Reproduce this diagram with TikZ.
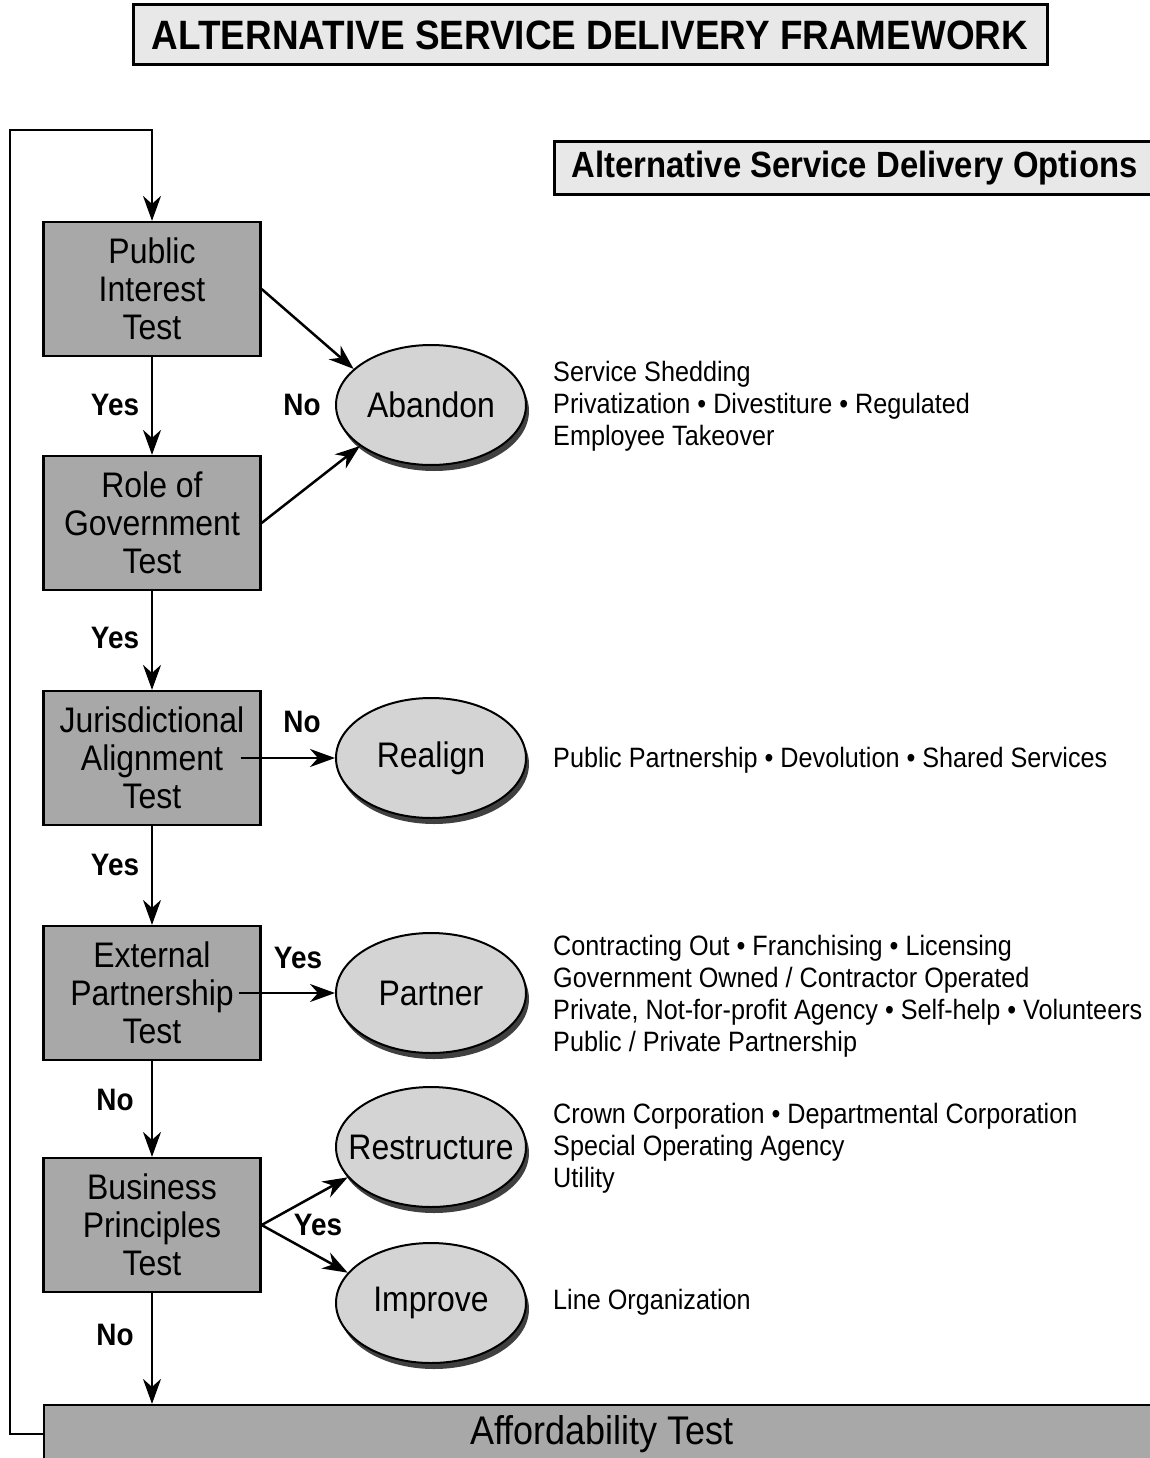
\documentclass[tikz,border=0pt]{standalone}
\usepackage{fontspec}
\setmainfont{Liberation Sans}[FakeStretch=0.9]
\usetikzlibrary{arrows.meta,shapes.geometric,shadows}
\definecolor{boxgray}{gray}{0.66}
\definecolor{ovalgray}{gray}{0.83}
\definecolor{titlegray}{gray}{0.91}
\begin{document}
\begin{tikzpicture}[x=1pt,y=-1pt,line join=miter,
	flow/.style={line width=2.5pt,-{Stealth[length=25pt,width=18pt,inset=8pt]}},
	testbox/.style={draw,line width=2.2pt,fill=boxgray,minimum width=217pt,minimum height=134pt,align=center,font=\fontsize{35.5}{38}\selectfont},
	option/.style={ellipse,draw,line width=2pt,fill=ovalgray,minimum width=190pt,minimum height=120pt,inner sep=0pt,font=\fontsize{35.5}{38}\selectfont,
		drop shadow={shadow xshift=3pt,shadow yshift=-6pt,fill=black!75,opacity=1}},
	answer/.style={font=\bfseries\fontsize{31}{34}\selectfont},
	optlist/.style={anchor=west,align=left,inner sep=0pt,font=\fontsize{28}{32}\selectfont},
	headbox/.style={draw,line width=3pt,fill=titlegray}]
	\useasboundingbox (0,0) rectangle (1149,1458);
	% headings
	\node[headbox,minimum width=914pt,minimum height=60pt,font=\bfseries\fontsize{41}{44}\selectfont] (title) at (590,35) {ALTERNATIVE SERVICE DELIVERY FRAMEWORK};
	\node[headbox,anchor=west,minimum height=53pt,inner xsep=17pt,font=\bfseries\fontsize{36.5}{40}\selectfont] (optionshead) at (553,168) {Alternative Service Delivery Options};
	% tests
	\node[testbox] (pit) at (152,289) {Public\\Interest\\Test};
	\node[testbox] (rog) at (152,523) {Role of\\Government\\Test};
	\node[testbox] (jat) at (152,758) {Jurisdictional\\Alignment\\Test};
	\node[testbox] (ept) at (152,993) {External\\Partnership\\Test};
	\node[testbox] (bpt) at (152,1225) {Business\\Principles\\Test};
	\node[testbox,minimum width=1116pt,minimum height=58pt,font=\fontsize{40}{44}\selectfont] (afford) at (602,1434) {Affordability Test};
	% options
	\node[option] (abandon) at (431,405) {\makebox[0pt]{Abandon}};
	\node[option] (realign) at (431,758) {\makebox[0pt]{Realign}};
	\node[option] (partner) at (431,993) {\makebox[0pt]{Partner}};
	\node[option] (restructure) at (431,1147) {\makebox[0pt]{Restructure}};
	\node[option] (improve) at (431,1303) {\makebox[0pt]{Improve}};
	% option lists
	\node[optlist] (abandonlist) at (553,406) {Service Shedding\\Privatization • Divestiture • Regulated\\Employee Takeover};
	\node[optlist] (realignlist) at (553,760) {Public Partnership • Devolution • Shared Services};
	\node[optlist] (partnerlist) at (553,996) {Contracting Out • Franchising • Licensing\\Government Owned / Contractor Operated\\Private, Not-for-profit Agency • Self-help • Volunteers\\Public / Private Partnership};
	\node[optlist] (restructurelist) at (553,1148) {Crown Corporation • Departmental Corporation\\Special Operating Agency\\Utility};
	\node[optlist] (improvelist) at (553,1302) {Line Organization};
	% flow down the tests
	\coordinate (loop) at (10,130);
	\draw[flow] (afford.west) -| (loop) -| (pit.north);
	\draw[flow] (pit) -- (rog);
	\draw[flow] (rog) -- (jat);
	\draw[flow] (jat) -- (ept);
	\draw[flow] (ept) -- (bpt);
	\draw[flow] (bpt.south) -- (bpt.south |- afford.north);
	\node[answer] at (115,405) {Yes};
	\node[answer] at (115,638) {Yes};
	\node[answer] at (115,865) {Yes};
	\node[answer] at (115,1100) {No};
	\node[answer] at (115,1335) {No};
	% flow out to the options
	\draw[flow] (pit.east) -- (abandon.155);
	\draw[flow] (rog.east) -- (abandon.210);
	\draw[flow] ([xshift=-21pt]jat.east) -- (realign.west);
	\draw[flow] ([xshift=-23pt]ept.east) -- (partner.west);
	\draw[flow] (bpt.east) -- (restructure.200);
	\draw[flow] (bpt.east) -- (improve.160);
	\node[answer] at (302,405) {No};
	\node[answer] at (302,722) {No};
	\node[answer] at (298,958) {Yes};
	\node[answer] at (318,1225) {Yes};
\end{tikzpicture}
\end{document}
